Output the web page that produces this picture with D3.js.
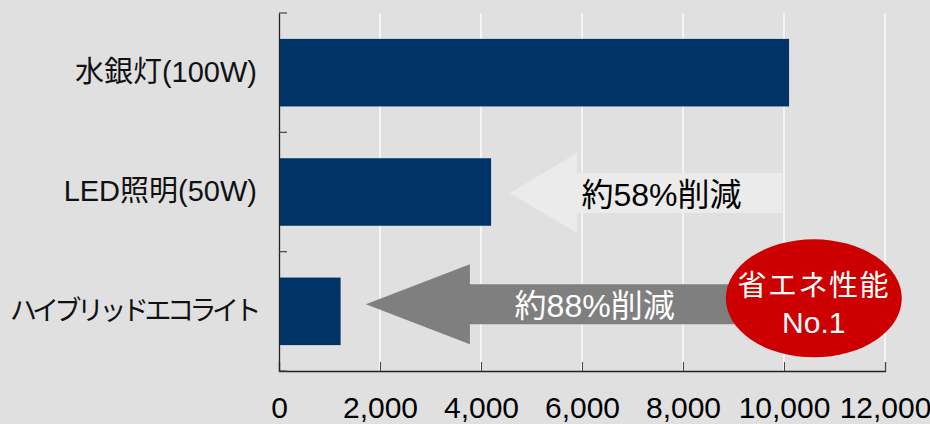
<!DOCTYPE html>
<html><head><meta charset="utf-8">
<script src="https://cdn.jsdelivr.net/npm/d3@7"></script>
<style>
html,body{margin:0;padding:0;background:#e0e0e0;}
svg{display:block;}
text{font-family:"Liberation Sans","Noto Sans CJK JP",sans-serif;}
</style></head>
<body>
<svg id="chart" width="930" height="424"></svg>
<script>
const categories = ["水銀灯(100W)", "LED照明(50W)", "ハイブリッドエコライト"];
const values = [10100, 4200, 1220];
const xTicks = [0, 2000, 4000, 6000, 8000, 10000, 12000];
const reductions = ["約58%削減", "約88%削減"];
const badgeLines = ["省エネ性能", "No.1"];

const W = 930, H = 424;
const m = {left: 279, right: 45, top: 13, bottom: 53};
const svg = d3.select("#chart");
svg.append("rect").attr("width", W).attr("height", H).attr("fill", "#e0e0e0");

const x = d3.scaleLinear().domain([0, 12000]).range([m.left, W - m.right]);
const p = 0.434;
const y = d3.scaleBand().domain(categories).range([m.top, H - m.bottom]).paddingInner(p).paddingOuter(p / 2);

// gridlines
svg.append("g").selectAll("line").data(xTicks.slice(1)).join("line")
  .attr("x1", d => x(d)).attr("x2", d => x(d))
  .attr("y1", m.top).attr("y2", H - m.bottom)
  .attr("stroke", "#f4f4f4").attr("stroke-width", 2);

// bars
svg.append("g").selectAll("rect").data(values).join("rect")
  .attr("x", x(0)).attr("y", (d, i) => y(categories[i]))
  .attr("width", d => x(d) - x(0)).attr("height", y.bandwidth())
  .attr("fill", "#003466");

// x axis
const xAxis = d3.axisBottom(x).tickValues(xTicks).tickSize(-9).tickPadding(26)
  .tickFormat(d3.format(","));
const gx = svg.append("g").attr("transform", `translate(0,${H - m.bottom})`).call(xAxis);
gx.select(".domain").attr("stroke", "#222").attr("stroke-width", 1.3);
gx.selectAll(".tick line").attr("stroke", "#444");
gx.selectAll(".tick text").style("font-size", "30px").attr("fill", "#000");

// y axis
const yAxis = d3.axisLeft(y).tickSize(0).tickPadding(22);
const gy = svg.append("g").attr("transform", `translate(${m.left},0)`).call(yAxis);
gy.select(".domain").attr("stroke", "#222").attr("stroke-width", 1.3);
gy.selectAll(".tick text").style("font-size", (d, i) => i === 2 ? "27px" : "29px").attr("fill", "#111")
  .attr("letter-spacing", (d, i) => i === 2 ? "-4.5px" : "0px");
// band boundary ticks
const bounds = categories.map(c => y(c) - y.step() * p / 2).concat([H - m.bottom]);
svg.append("g").selectAll("line").data(bounds).join("line")
  .attr("x1", m.left).attr("x2", m.left + 8)
  .attr("y1", d => d).attr("y2", d => d)
  .attr("stroke", "#444").attr("stroke-width", 1.2);

// arrows (annotation)
function arrowPath(tipV, headV, tailV, cy, headHalf, shaftHalf) {
  const tx = x(tipV), hx = x(headV), ex = x(tailV);
  return `M${tx},${cy} L${hx},${cy - headHalf} L${hx},${cy - shaftHalf} L${ex},${cy - shaftHalf} L${ex},${cy + shaftHalf} L${hx},${cy + shaftHalf} L${hx},${cy + headHalf} Z`;
}
const c2 = y(categories[1]) + y.bandwidth() / 2;
const c3 = y(categories[2]) + y.bandwidth() / 2;

svg.append("path").attr("d", arrowPath(4570, 5900, 9960, c2 + 1, 40, 20)).attr("fill", "#ebebeb");
svg.append("text").attr("x", x(5990)).attr("y", c2 + 2).attr("dy", "0.36em")
  .style("font-size", "32px").attr("fill", "#000")
  .text(reductions[0]);

svg.append("path").attr("d", arrowPath(1720, 3780, 9400, c3 - 7, 40, 20)).attr("fill", "#7f7f7f");
svg.append("text").attr("x", x(6250)).attr("y", c3 - 6).attr("dy", "0.36em")
  .style("font-size", "32px").attr("fill", "#fff")
  .attr("text-anchor", "middle")
  .text(reductions[1]);

// badge
const bx = x(10590), by = c3 - 13;
svg.append("ellipse").attr("cx", bx).attr("cy", by).attr("rx", 88).attr("ry", 59).attr("fill", "#cc0000");
svg.append("text").attr("x", bx).attr("y", by - 13).attr("dy", "0.36em").attr("text-anchor", "middle")
  .style("font-size", "29px").attr("fill", "#fff").attr("letter-spacing", "1.5px").text(badgeLines[0]);
svg.append("text").attr("x", bx).attr("y", by + 24).attr("dy", "0.36em").attr("text-anchor", "middle")
  .style("font-size", "30px").attr("fill", "#fff").text(badgeLines[1]);
</script>
</body></html>
